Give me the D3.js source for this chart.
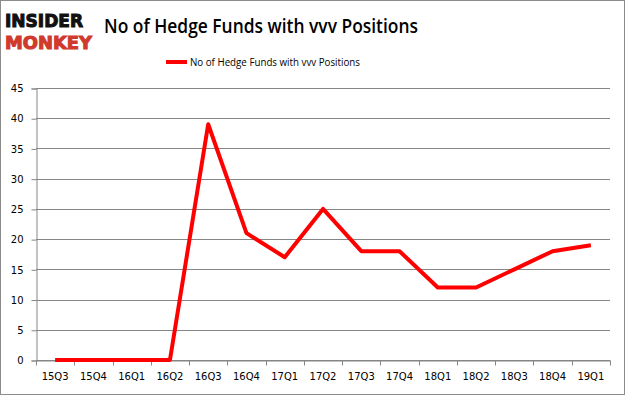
<!DOCTYPE html>
<html>
<head>
<meta charset="utf-8">
<script src="https://cdn.jsdelivr.net/npm/d3@7"></script>
<style>
  body { margin: 0; background: #fff; }
  svg { display: block; }
</style>
</head>
<body>
<div class="chart"></div>
<script>
// data
const quarters = ["15Q3","15Q4","16Q1","16Q2","16Q3","16Q4","17Q1","17Q2","17Q3","17Q4","18Q1","18Q2","18Q3","18Q4","19Q1"];
const funds = [0, 0, 0, 0, 39, 21, 17, 25, 18, 18, 12, 12, 15, 18, 19];
const yTicks = [0, 5, 10, 15, 20, 25, 30, 35, 40, 45];
const seriesName = "No of Hedge Funds with vvv Positions";

const width = 625, height = 395;
const margin = {top: 88, right: 15, bottom: 35, left: 36};

const svg = d3.select(".chart").append("svg")
    .attr("width", width)
    .attr("height", height);

// outer frame
svg.append("rect")
    .attr("x", 0.5).attr("y", 0.5)
    .attr("width", width - 1).attr("height", height - 1)
    .attr("fill", "#fff")
    .attr("stroke", "#8c8c8c");

const x = d3.scaleBand()
    .domain(quarters)
    .range([margin.left, width - margin.right]);

const y = d3.scaleLinear()
    .domain([0, 45])
    .range([height - margin.bottom, margin.top]);

// gridlines
svg.append("g")
  .selectAll("line")
  .data(yTicks)
  .join("line")
    .attr("x1", margin.left)
    .attr("x2", width - margin.right)
    .attr("y1", d => Math.round(y(d)) + 0.5)
    .attr("y2", d => Math.round(y(d)) + 0.5)
    .attr("stroke", "#868686");

// y axis
const yAxis = svg.append("g")
    .attr("transform", `translate(${margin.left + 0.5},0.5)`)
    .call(d3.axisLeft(y).tickValues(yTicks).tickSize(5).tickPadding(8));

// x axis, ticks at band edges
const xAxis = svg.append("g")
    .attr("transform", `translate(0,${Math.round(y(0)) + 0.5})`)
    .call(d3.axisBottom(x).tickSize(0).tickPadding(12));

xAxis.selectAll(".edge")
  .data(quarters.concat(["end"]))
  .join("line")
    .attr("class", "edge")
    .attr("x1", (d, i) => Math.round(margin.left + i * x.step()) + 0.5)
    .attr("x2", (d, i) => Math.round(margin.left + i * x.step()) + 0.5)
    .attr("y1", 0).attr("y2", 5)
    .attr("stroke", "#868686");

[yAxis, xAxis].forEach(a => {
  a.selectAll(".domain").attr("stroke", "#868686");
  a.selectAll(".tick line").attr("stroke", "#868686");
  a.selectAll("text")
    .attr("fill", "#000")
    .style("font-family", "'DejaVu Sans', Verdana, sans-serif")
    .style("font-size", "10px");
});

// the line
const line = d3.line()
    .x((d, i) => x(quarters[i]) + x.bandwidth() / 2)
    .y(d => y(d));

svg.append("path")
    .datum(funds)
    .attr("fill", "none")
    .attr("stroke", "#ff0000")
    .attr("stroke-width", 4)
    .attr("stroke-linejoin", "round")
    .attr("d", line);

// title
svg.append("text")
    .attr("x", 104).attr("y", 33)
    .attr("textLength", 314)
    .attr("lengthAdjust", "spacingAndGlyphs")
    .style("font-family", "'Open Sans', 'Noto Sans', sans-serif")
    .style("font-weight", 600)
    .style("font-size", "19px")
    .text(seriesName);

// legend
svg.append("line")
    .attr("x1", 166).attr("x2", 187)
    .attr("y1", 62).attr("y2", 62)
    .attr("stroke", "#ff0000")
    .attr("stroke-width", 4);

svg.append("text")
    .attr("x", 190).attr("y", 66)
    .attr("textLength", 170)
    .attr("lengthAdjust", "spacingAndGlyphs")
    .style("font-family", "'Open Sans', 'Noto Sans', sans-serif")
    .style("font-size", "11px")
    .text(seriesName);

// logo
svg.append("text")
    .attr("x", 5).attr("y", 27)
    .attr("textLength", 78)
    .attr("lengthAdjust", "spacingAndGlyphs")
    .style("font-family", "'DejaVu Sans', sans-serif")
    .style("font-weight", 900)
    .style("font-size", "18.5px")
    .attr("fill", "#111")
    .attr("stroke", "#111")
    .attr("stroke-width", 1.1)
    .text("INSIDER");

svg.append("text")
    .attr("x", 5).attr("y", 49)
    .attr("textLength", 87)
    .attr("lengthAdjust", "spacingAndGlyphs")
    .style("font-family", "'DejaVu Sans', sans-serif")
    .style("font-weight", 900)
    .style("font-size", "18.5px")
    .attr("fill", "#d0392b")
    .attr("stroke", "#d0392b")
    .attr("stroke-width", 1.1)
    .text("MONKEY");
</script>
</body>
</html>
